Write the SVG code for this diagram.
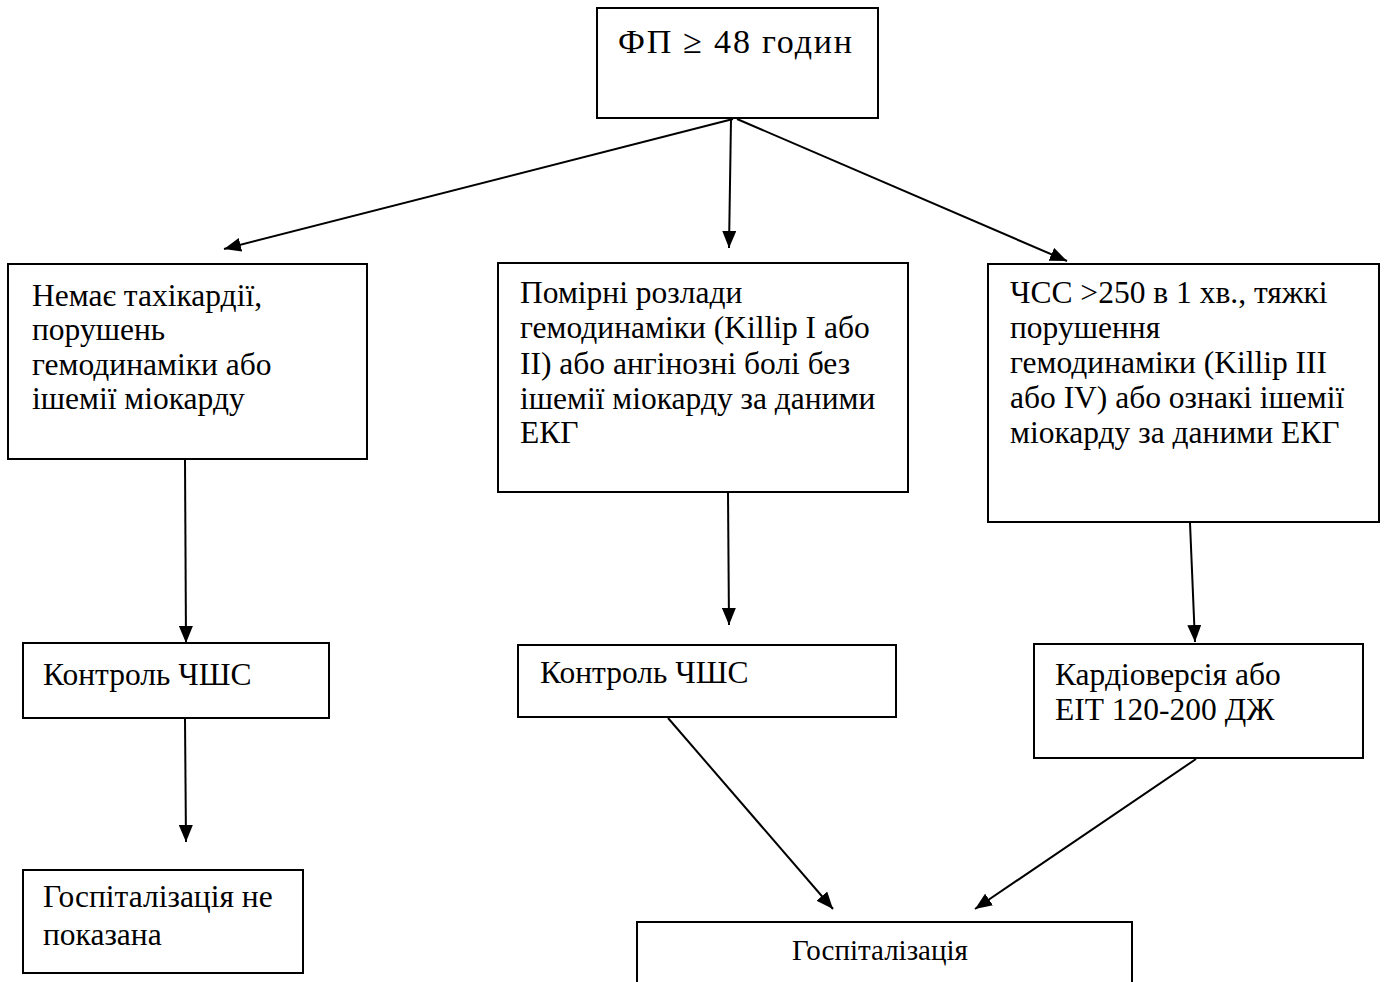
<svg xmlns="http://www.w3.org/2000/svg" width="1384" height="982" viewBox="0 0 1384 982">
<style>
.box{fill:#fff;stroke:#000;stroke-width:2}
.t{font-family:"Liberation Serif","Times New Roman",serif;font-size:31.5px;fill:#000}
.c{stroke:#000;stroke-width:2;fill:none;marker-end:url(#ah)}
</style>
<defs>
<marker id="ah" markerUnits="userSpaceOnUse" markerWidth="18" markerHeight="14" refX="17" refY="7" orient="auto">
<path d="M0,0 L17,7 L0,14 z" fill="#000"/>
</marker>
</defs>
<rect width="1384" height="982" fill="#fff"/>
<g id="n-top">
<rect class="box" x="597" y="8" width="281" height="110"/>
<text class="t" x="618" y="53" style="font-size:34px" textLength="234" lengthAdjust="spacing">ФП ≥ 48 годин</text>
</g>
<g id="n-left">
<rect class="box" x="8" y="264" width="359" height="195"/>
<text class="t" x="32" y="306">Немає тахікардії,</text>
<text class="t" x="32" y="340">порушень</text>
<text class="t" x="32" y="375">гемодинаміки або</text>
<text class="t" x="32" y="409">ішемії міокарду</text>
</g>
<g id="n-mid">
<rect class="box" x="498" y="263" width="410" height="229"/>
<text class="t" x="520" y="303">Помірні розлади</text>
<text class="t" x="520" y="338">гемодинаміки (Killip I або</text>
<text class="t" x="520" y="374">II) або ангінозні болі без</text>
<text class="t" x="520" y="409">ішемії міокарду за даними</text>
<text class="t" x="520" y="443">ЕКГ</text>
</g>
<g id="n-right">
<rect class="box" x="988" y="264" width="391" height="258"/>
<text class="t" x="1010" y="303">ЧСС &gt;250 в 1 хв., тяжкі</text>
<text class="t" x="1010" y="338">порушення</text>
<text class="t" x="1010" y="373">гемодинаміки (Killip III</text>
<text class="t" x="1010" y="408">або IV) або ознакі ішемії</text>
<text class="t" x="1010" y="443">міокарду за даними ЕКГ</text>
</g>
<g id="n-ctrl1">
<rect class="box" x="23" y="643" width="306" height="75"/>
<text class="t" x="43" y="685">Контроль ЧШС</text>
</g>
<g id="n-ctrl2">
<rect class="box" x="518" y="645" width="378" height="72"/>
<text class="t" x="540" y="683">Контроль ЧШС</text>
</g>
<g id="n-cardio">
<rect class="box" x="1034" y="644" width="329" height="114"/>
<text class="t" x="1055" y="685">Кардіоверсія або</text>
<text class="t" x="1055" y="720">ЕІТ 120-200 ДЖ</text>
</g>
<g id="n-nohosp">
<rect class="box" x="23" y="870" width="280" height="103"/>
<text class="t" x="43" y="907">Госпіталізація не</text>
<text class="t" x="43" y="945">показана</text>
</g>
<g id="n-hosp">
<rect class="box" x="637" y="922" width="495" height="70"/>
<text class="t" x="880" y="960" text-anchor="middle" style="font-size:29px">Госпіталізація</text>
</g>
<g id="connectors">
<line class="c" x1="733" y1="119" x2="224" y2="249"/>
<line class="c" x1="731" y1="119" x2="729" y2="248"/>
<line class="c" x1="737" y1="119" x2="1067" y2="261"/>
<line class="c" x1="185" y1="460" x2="186" y2="643"/>
<line class="c" x1="185" y1="719" x2="186" y2="842"/>
<line class="c" x1="728" y1="493" x2="729" y2="625"/>
<line class="c" x1="1190" y1="523" x2="1195" y2="642"/>
<line class="c" x1="668" y1="718" x2="833" y2="909"/>
<line class="c" x1="1196" y1="759" x2="975" y2="909"/>
</g>
</svg>
